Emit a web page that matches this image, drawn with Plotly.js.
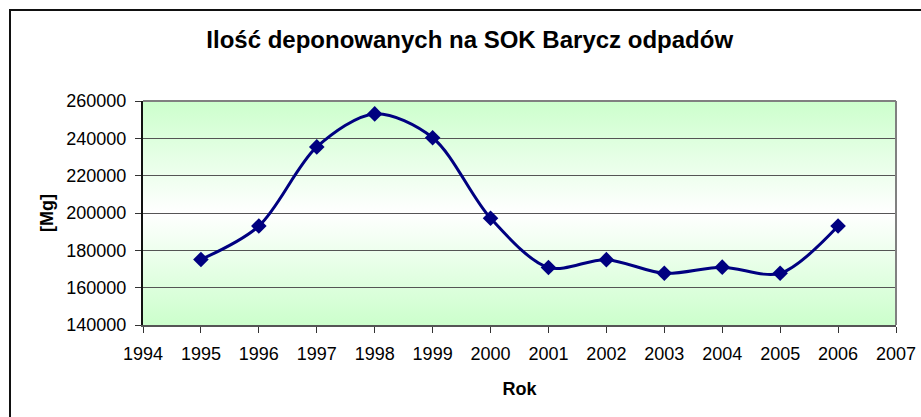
<!DOCTYPE html>
<html>
<head>
<meta charset="utf-8">
<script src="https://cdn.plot.ly/plotly-3.0.1.min.js"></script>
<style>
html,body{margin:0;padding:0;background:#fff;}
#wrap{position:relative;width:921px;height:417px;overflow:hidden;}
#chart{position:absolute;left:0;top:0;width:921px;height:417px;}
#frame{position:absolute;left:9px;top:9px;width:1000px;height:500px;border-left:2px solid #111;border-top:2px solid #111;pointer-events:none;}
</style>
</head>
<body>
<div id="wrap"><div id="chart"></div><div id="frame"></div></div>
<script>
const years = [1995, 1996, 1997, 1998, 1999, 2000, 2001, 2002, 2003, 2004, 2005, 2006];
const tonnes = [175100, 193000, 235400, 253100, 240300, 197200, 170800, 175000, 167700, 171000, 167700, 193000];
const chartTitle = 'Ilość deponowanych na SOK Barycz odpadów';
const xTitle = 'Rok';
const yTitle = '[Mg]';

const svg = '<svg xmlns="http://www.w3.org/2000/svg" width="100" height="100" preserveAspectRatio="none">' +
  '<defs><linearGradient id="g" x1="0" y1="0" x2="0" y2="1">' +
  '<stop offset="0" stop-color="#CCFFCC"/><stop offset="0.5" stop-color="#FFFFFF"/><stop offset="1" stop-color="#CCFFCC"/>' +
  '</linearGradient></defs><rect width="100" height="100" fill="url(#g)"/></svg>';
const bgSrc = 'data:image/svg+xml;base64,' + btoa(svg);

const trace = {
  x: years, y: tonnes, type: 'scatter', mode: 'lines+markers',
  line: {color: '#000080', width: 3, shape: 'spline', smoothing: 0.9},
  marker: {symbol: 'diamond', size: 12, color: '#000080'},
  hoverinfo: 'x+y'
};

const font = {family: '"Liberation Sans", Arial, sans-serif', color: '#000'};
const layout = {
  width: 921, height: 417,
  margin: {l: 143, r: 25, t: 101, b: 92},
  paper_bgcolor: '#fff', plot_bgcolor: 'rgba(0,0,0,0)',
  showlegend: false,
  font: Object.assign({size: 18}, font),
  title: {text: '<b>' + chartTitle + '</b>', font: Object.assign({size: 24}, font),
          x: 0.51, xref: 'container', xanchor: 'center', y: 0.905, yref: 'container', yanchor: 'middle'},
  xaxis: {
    range: [1994, 2007], dtick: 1, tick0: 1994, tickformat: 'd',
    showgrid: false, zeroline: false,
    showline: true, linecolor: '#555', linewidth: 2,
    ticks: 'outside', ticklen: 6, tickcolor: '#333', tickwidth: 1,
    ticklabelstandoff: 5,
    tickfont: Object.assign({size: 18}, font),
    title: {text: '<b>' + xTitle + '</b>', font: Object.assign({size: 18}, font), standoff: 20}
  },
  yaxis: {
    range: [140000, 260000], dtick: 20000, tickformat: 'd',
    showgrid: true, gridcolor: '#555', gridwidth: 1, zeroline: false,
    showline: true, linecolor: '#111', linewidth: 2,
    ticks: 'outside', ticklen: 6, tickcolor: '#333', tickwidth: 1,
    ticklabelstandoff: 5,
    tickfont: Object.assign({size: 18}, font),
    title: {text: '<b>' + yTitle + '</b>', font: Object.assign({size: 18}, font), standoff: 8}
  },
  images: [{source: bgSrc, xref: 'paper', yref: 'paper', x: 0, y: 1, sizex: 1, sizey: 1,
            sizing: 'stretch', xanchor: 'left', yanchor: 'top', layer: 'below'}],
  shapes: [
    {type: 'line', xref: 'paper', yref: 'paper', x0: 0, x1: 1, y0: 1, y1: 1, line: {color: '#808080', width: 2}},
    {type: 'line', xref: 'paper', yref: 'paper', x0: 1, x1: 1, y0: 0, y1: 1, line: {color: '#808080', width: 2}}
  ]
};

Plotly.newPlot('chart', [trace], layout, {displayModeBar: false, staticPlot: true});
</script>
</body>
</html>
